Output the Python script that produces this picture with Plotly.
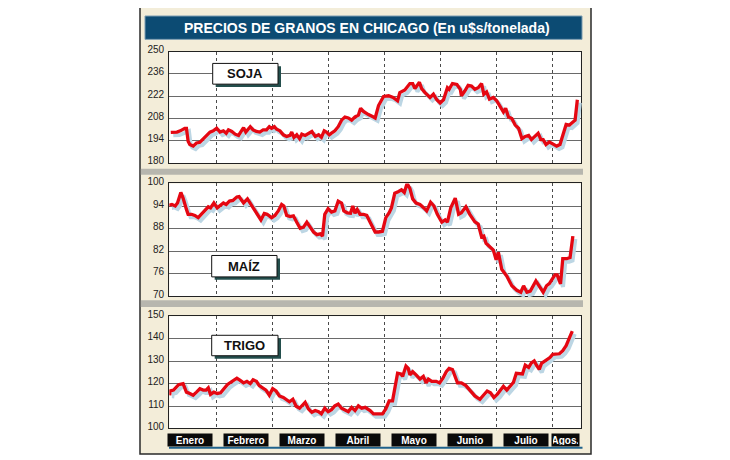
import plotly.graph_objects as go

# page is 730x460; the browser body adds an 8px margin, so the figure is 722x452
PAGE_OFF = 8
W, H = 722, 452

# ---------------- data (x in months since 1 Jan; 1 = start of February) -------------
months = ["Enero", "Febrero", "Marzo", "Abril", "Mayo", "Junio", "Julio", "Agos."]
month_breaks = [1, 2, 3, 4, 5, 6, 7]

soja_x = [0.18, 0.29, 0.35, 0.43, 0.46, 0.49, 0.52, 0.58, 0.64, 0.70, 0.76, 0.82, 0.88, 0.94,
          1.00, 1.06, 1.12, 1.17, 1.21, 1.27, 1.33, 1.39, 1.45, 1.48, 1.52, 1.60, 1.65, 1.71,
          1.77, 1.83, 1.89, 1.94, 1.98, 2.03, 2.07, 2.13, 2.19, 2.25, 2.31, 2.34, 2.38, 2.43,
          2.48, 2.52, 2.58, 2.64, 2.70, 2.76, 2.82, 2.87, 2.92, 2.96, 3.01, 3.05, 3.11, 3.17,
          3.23, 3.29, 3.35, 3.41, 3.47, 3.53, 3.57, 3.62, 3.68, 3.71, 3.80, 3.83, 3.89, 3.98,
          4.07, 4.15, 4.23, 4.27, 4.36, 4.45, 4.50, 4.54, 4.62, 4.66, 4.72, 4.81, 4.87, 4.93,
          4.99, 5.05, 5.12, 5.15, 5.21, 5.29, 5.35, 5.37, 5.43, 5.49, 5.55, 5.61, 5.67, 5.73,
          5.77, 5.82, 5.87, 5.94, 6.00, 6.06, 6.12, 6.16, 6.21, 6.27, 6.33, 6.39, 6.45, 6.51,
          6.57, 6.62, 6.68, 6.74, 6.79, 6.83, 6.88, 6.94, 7.00, 7.07, 7.13, 7.19, 7.24, 7.30,
          7.36, 7.40, 7.44]
soja_v = [199.2, 199.4, 200.2, 201.8, 201.8, 193.6, 191.6, 190.6, 192.6, 193.0, 195.1, 197.3, 199.4, 200.2,
          201.8, 199.4, 200.2, 198.7, 200.8, 199.8, 198.1, 197.3, 200.8, 202.2, 199.4, 202.8, 200.8, 199.8,
          199.4, 200.8, 200.8, 202.8, 201.8, 202.8, 201.2, 200.2, 197.7, 196.7, 197.3, 199.4, 196.1, 197.7,
          195.3, 198.1, 197.3, 198.7, 199.8, 196.7, 197.7, 196.1, 200.2, 199.4, 197.7, 198.7, 200.2, 202.8,
          206.9, 208.9, 208.3, 206.9, 208.9, 210.0, 214.4, 212.4, 211.0, 210.4, 208.9, 208.3, 216.1, 221.8,
          222.2, 221.2, 219.1, 224.2, 225.8, 229.9, 229.9, 226.7, 230.7, 226.7, 224.2, 221.2, 223.2, 219.7,
          217.7, 219.7, 227.3, 226.3, 229.9, 229.3, 226.3, 222.2, 225.2, 228.7, 228.3, 226.3, 227.3, 229.9,
          223.2, 224.6, 220.1, 221.2, 219.1, 215.0, 212.0, 214.4, 208.9, 207.9, 203.8, 201.8, 195.3, 196.7,
          197.3, 194.7, 196.7, 198.7, 194.7, 194.7, 191.6, 193.2, 192.0, 190.6, 191.6, 197.7, 204.2, 203.8,
          205.5, 206.9, 219.7]

maiz_x = [0.15, 0.20, 0.26, 0.30, 0.36, 0.40, 0.46, 0.49, 0.55, 0.61, 0.67, 0.73, 0.79, 0.85,
          0.89, 0.95, 1.01, 1.06, 1.12, 1.17, 1.23, 1.29, 1.36, 1.40, 1.48, 1.55, 1.60, 1.65,
          1.73, 1.79, 1.85, 1.90, 1.98, 2.04, 2.10, 2.16, 2.20, 2.25, 2.31, 2.37, 2.43, 2.49,
          2.55, 2.61, 2.67, 2.73, 2.79, 2.85, 2.89, 2.93, 2.99, 3.05, 3.11, 3.17, 3.23, 3.27,
          3.33, 3.39, 3.43, 3.47, 3.51, 3.56, 3.62, 3.68, 3.74, 3.77, 3.83, 3.89, 3.96, 4.02,
          4.08, 4.12, 4.18, 4.24, 4.30, 4.35, 4.40, 4.45, 4.50, 4.56, 4.63, 4.70, 4.75, 4.82,
          4.88, 4.94, 5.02, 5.08, 5.12, 5.18, 5.26, 5.32, 5.37, 5.45, 5.52, 5.61, 5.67, 5.73,
          5.77, 5.81, 5.88, 5.94, 5.99, 6.03, 6.09, 6.18, 6.27, 6.36, 6.43, 6.48, 6.54, 6.60,
          6.70, 6.77, 6.83, 6.89, 6.94, 7.04, 7.08, 7.14, 7.18, 7.25, 7.31, 7.36]
maiz_v = [94.2, 94.4, 94.0, 94.8, 97.6, 96.1, 93.1, 91.8, 91.8, 91.5, 90.9, 91.8, 92.7, 93.8,
          93.5, 94.8, 93.5, 94.0, 94.8, 94.4, 95.3, 95.5, 96.4, 96.5, 94.8, 95.9, 94.8, 93.5,
          91.8, 90.3, 92.0, 91.8, 90.9, 91.5, 92.7, 94.4, 94.0, 91.5, 91.2, 91.4, 89.7, 88.1,
          88.4, 89.7, 88.4, 87.1, 86.4, 86.6, 86.0, 91.8, 93.3, 92.4, 92.7, 95.3, 94.8, 92.7,
          92.2, 92.1, 94.0, 92.1, 93.1, 91.8, 91.8, 91.5, 89.7, 88.8, 87.1, 87.1, 87.3, 90.9,
          92.2, 93.5, 97.4, 97.8, 98.3, 97.6, 100.0, 98.7, 95.9, 94.8, 94.4, 93.5, 92.7, 95.0,
          94.0, 91.8, 89.7, 90.3, 89.7, 93.5, 96.1, 91.8, 92.2, 93.8, 91.8, 89.8, 89.2, 85.8,
          86.0, 84.1, 83.2, 82.3, 79.7, 81.7, 77.2, 75.4, 72.8, 71.6, 71.1, 72.8, 71.1, 71.4,
          74.1, 72.4, 71.1, 72.8, 73.4, 75.7, 75.7, 73.3, 80.0, 80.0, 80.3, 86.0]

trigo_x = [0.16, 0.17, 0.23, 0.27, 0.32, 0.40, 0.46, 0.52, 0.58, 0.64, 0.70, 0.76, 0.81, 0.85,
           0.89, 0.95, 1.01, 1.07, 1.13, 1.19, 1.25, 1.30, 1.36, 1.42, 1.48, 1.54, 1.60, 1.65,
           1.71, 1.76, 1.82, 1.88, 1.94, 2.00, 2.06, 2.12, 2.19, 2.25, 2.30, 2.36, 2.42, 2.48,
           2.54, 2.58, 2.64, 2.70, 2.76, 2.82, 2.87, 2.93, 2.99, 3.05, 3.11, 3.17, 3.23, 3.29,
           3.35, 3.41, 3.47, 3.53, 3.59, 3.65, 3.71, 3.74, 3.80, 3.89, 3.96, 4.02, 4.08, 4.14,
           4.23, 4.29, 4.32, 4.38, 4.42, 4.45, 4.50, 4.56, 4.63, 4.69, 4.74, 4.78, 4.84, 4.92,
           4.98, 5.04, 5.10, 5.15, 5.21, 5.30, 5.37, 5.45, 5.54, 5.61, 5.70, 5.76, 5.83, 5.89,
           5.95, 6.01, 6.06, 6.12, 6.18, 6.24, 6.30, 6.35, 6.40, 6.46, 6.51, 6.57, 6.62, 6.67,
           6.71, 6.76, 6.80, 6.86, 6.90, 6.95, 7.00, 7.06, 7.12, 7.18, 7.24, 7.30, 7.35]
trigo_v = [114.8, 116.7, 117.1, 118.1, 119.5, 120.0, 116.2, 115.6, 114.8, 116.2, 117.7, 117.1, 117.1, 118.1,
           115.2, 116.2, 115.6, 115.9, 117.7, 119.5, 120.6, 121.4, 122.4, 121.4, 120.3, 121.0, 120.0, 121.7,
           121.0, 119.1, 118.1, 117.1, 114.8, 117.7, 116.7, 114.5, 113.8, 112.7, 111.9, 113.0, 109.9, 109.0,
           110.9, 111.6, 108.7, 107.2, 108.0, 107.5, 106.5, 109.0, 107.5, 108.4, 110.1, 110.9, 109.0, 108.4,
           107.5, 109.4, 108.0, 110.1, 109.0, 109.4, 108.4, 108.0, 106.5, 106.5, 106.5, 108.7, 112.3, 112.3,
           124.6, 124.3, 123.2, 127.8, 126.8, 123.9, 125.3, 123.9, 122.0, 123.2, 120.3, 122.0, 121.0, 121.0,
           120.3, 122.4, 125.3, 126.8, 126.3, 120.3, 120.3, 119.1, 116.7, 114.5, 113.0, 114.5, 116.7, 115.9,
           113.8, 115.2, 117.1, 118.8, 117.1, 118.8, 120.6, 124.6, 124.6, 124.3, 128.2, 127.2, 129.2, 130.1,
           128.2, 126.3, 129.0, 130.1, 130.7, 131.6, 133.0, 133.0, 133.3, 134.7, 136.9, 140.5, 143.4]

soja_ticks = [180, 194, 208, 222, 236, 250]
maiz_ticks = [70, 76, 82, 88, 94, 100]
trigo_ticks = [100, 110, 120, 130, 140, 150]

panel_names = ["SOJA", "MAÍZ", "TRIGO"]

# ---------------- layout helpers (page pixels -> paper fractions) ----------------
def PX(x):
    return (x - PAGE_OFF) / W


def PY(y):
    return 1 - (y - PAGE_OFF) / H


NARROW = "Liberation Sans Narrow, Arial Narrow, Liberation Sans, Arial, sans-serif"
SANS = "Liberation Sans, Arial, sans-serif"
RED = "#e50712"
SHADOW = "#bcd6e4"
CREAM = "#f3edd9"

X_LEFT, X_RIGHT = 169.3, 580.7
XRANGE = [0.154, 7.5]
SDX, SDY = 2.5, 3.0  # shadow offset, px

panels = [
    dict(name=panel_names[0], x=soja_x, v=soja_v, ticks=soja_ticks, top=44.5, bot=159.0,
         box=(212.7, 56.7, 278.0, 78.0)),
    dict(name=panel_names[1], x=maiz_x, v=maiz_v, ticks=maiz_ticks, top=180.0, bot=296.0,
         box=(211.7, 254.0, 277.0, 276.0)),
    dict(name=panel_names[2], x=trigo_x, v=trigo_v, ticks=trigo_ticks, top=316.5, bot=431.7,
         box=(211.7, 336.0, 278.0, 357.0)),
]

fig = go.Figure()
layout = {}
shapes = []
annotations = []

# background frame
shapes.append(dict(type="rect", xref="paper", yref="paper", layer="below",
                   x0=PX(140), x1=PX(591), y0=PY(458), y1=PY(-2),
                   fillcolor=CREAM, line=dict(color="#2a2a2a", width=1.5)))
# title bar
shapes.append(dict(type="rect", xref="paper", yref="paper", layer="below",
                   x0=PX(145), x1=PX(582), y0=PY(32), y1=PY(8),
                   fillcolor="#0c4b73", line=dict(color="#7d9db2", width=1)))
annotations.append(dict(xref="paper", yref="paper", x=PX(367), y=PY(20.5),
                        text="PRECIOS DE GRANOS EN CHICAGO (En u$s/tonelada)",
                        showarrow=False, xanchor="center", yanchor="middle",
                        font=dict(family=SANS, size=14, color="white", weight="bold")))
# grey separators between panels
for (y0, y1) in [(165, 171), (300, 307)]:
    shapes.append(dict(type="rect", xref="paper", yref="paper", layer="below",
                       x0=PX(140.8), x1=PX(583), y0=PY(y1), y1=PY(y0),
                       fillcolor="#b7b6ae", line=dict(width=0)))


def nm(k):
    return "" if k == 1 else str(k)


for i, p in enumerate(panels):
    g, s, r = 3 * i + 1, 3 * i + 2, 3 * i + 3   # grid axes, shadow axes, red-line axes
    dom_x = [PX(X_LEFT), PX(X_RIGHT)]
    dom_y = [PY(p["bot"]), PY(p["top"])]
    sdom_x = [PX(X_LEFT + SDX), PX(X_RIGHT + SDX)]
    sdom_y = [PY(p["bot"] + SDY), PY(p["top"] + SDY)]
    yr = [p["ticks"][0], p["ticks"][-1]]

    # white plot area
    shapes.append(dict(type="rect", xref="paper", yref="paper", layer="below",
                       x0=dom_x[0], x1=dom_x[1], y0=dom_y[0], y1=dom_y[1],
                       fillcolor="white", line=dict(width=0)))

    # visible axes with grid and frame
    layout["xaxis" + nm(g)] = dict(domain=dom_x, range=XRANGE, anchor="y" + nm(g),
                                   tickvals=month_breaks, showticklabels=False, ticks="",
                                   showgrid=True, gridcolor="#4a4a4a", gridwidth=1, griddash="dot",
                                   zeroline=False, showline=True, mirror=True,
                                   linecolor="#222222", linewidth=1.2, fixedrange=True)
    layout["yaxis" + nm(g)] = dict(domain=dom_y, range=yr, anchor="x" + nm(g),
                                   tickvals=p["ticks"], ticks="", showgrid=True,
                                   gridcolor="#6a6a6a", gridwidth=1, zeroline=False,
                                   showline=True, mirror=True, linecolor="#222222", linewidth=1.2,
                                   tickfont=dict(family=SANS, size=10, color="#222222"),
                                   ticklabelstandoff=2, ticklabelshift=-2, fixedrange=True)
    # shadow axes (shifted a few pixels right and down)
    layout["xaxis" + nm(s)] = dict(domain=sdom_x, range=XRANGE, anchor="y" + nm(s), visible=False,
                                   fixedrange=True)
    layout["yaxis" + nm(s)] = dict(domain=sdom_y, range=yr, anchor="x" + nm(s), visible=False,
                                   fixedrange=True)
    # red-line axes (same place as the grid axes)
    layout["xaxis" + nm(r)] = dict(domain=dom_x, range=XRANGE, anchor="y" + nm(r), visible=False,
                                   fixedrange=True)
    layout["yaxis" + nm(r)] = dict(domain=dom_y, range=yr, anchor="x" + nm(r), visible=False,
                                   fixedrange=True)

    # invisible trace so that the grid subplot is drawn
    fig.add_trace(go.Scatter(x=p["x"], y=p["v"], mode="lines", xaxis="x" + nm(g), yaxis="y" + nm(g),
                             line=dict(width=0, color="rgba(0,0,0,0)"), opacity=0,
                             hoverinfo="skip", showlegend=False))
    fig.add_trace(go.Scatter(x=p["x"], y=p["v"], mode="lines", xaxis="x" + nm(s), yaxis="y" + nm(s),
                             line=dict(color=SHADOW, width=4), hoverinfo="skip", showlegend=False))
    fig.add_trace(go.Scatter(x=p["x"], y=p["v"], mode="lines", xaxis="x" + nm(r), yaxis="y" + nm(r),
                             line=dict(color=RED, width=3.3), name=p["name"], showlegend=False))

    # panel name box with dark shadow
    bx0, by0, bx1, by1 = p["box"]
    shapes.append(dict(type="rect", xref="paper", yref="paper", layer="above",
                       x0=PX(bx0 + 3), x1=PX(bx1 + 3), y0=PY(by1 + 3), y1=PY(by0 + 3),
                       fillcolor="#234e4c", line=dict(width=0)))
    shapes.append(dict(type="rect", xref="paper", yref="paper", layer="above",
                       x0=PX(bx0), x1=PX(bx1), y0=PY(by1), y1=PY(by0),
                       fillcolor="white", line=dict(color="#111111", width=1)))
    annotations.append(dict(xref="paper", yref="paper", x=PX((bx0 + bx1) / 2), y=PY((by0 + by1) / 2),
                            text=p["name"], showarrow=False, xanchor="center", yanchor="middle",
                            font=dict(family=NARROW, size=13, color="#111111", weight="bold")))

# month labels under the last panel
month_ax = "x9"
for k, mname in enumerate(months):
    last = (k == len(months) - 1)
    annotations.append(dict(xref=month_ax, yref="paper", x=(7.22 if last else k + 0.52),
                            y=PY(443.5), text=mname, showarrow=False,
                            xanchor="center", yanchor="middle",
                            width=(25 if last else 42), height=10, borderpad=1,
                            bgcolor="#0a0a0a",
                            font=dict(family=NARROW, size=10, color="white", weight="bold")))
shapes.append(dict(type="line", xref="paper", yref="paper", layer="above",
                   x0=PX(169), x1=PX(582.5), y0=PY(451.6), y1=PY(451.6),
                   line=dict(color="#1f628c", width=2)))

fig.update_layout(**layout)
fig.update_layout(width=W, height=H, margin=dict(l=0, r=0, t=0, b=0),
                  paper_bgcolor="white", plot_bgcolor="rgba(0,0,0,0)",
                  shapes=shapes, annotations=annotations, showlegend=False)

fig.write_html("out.html")
